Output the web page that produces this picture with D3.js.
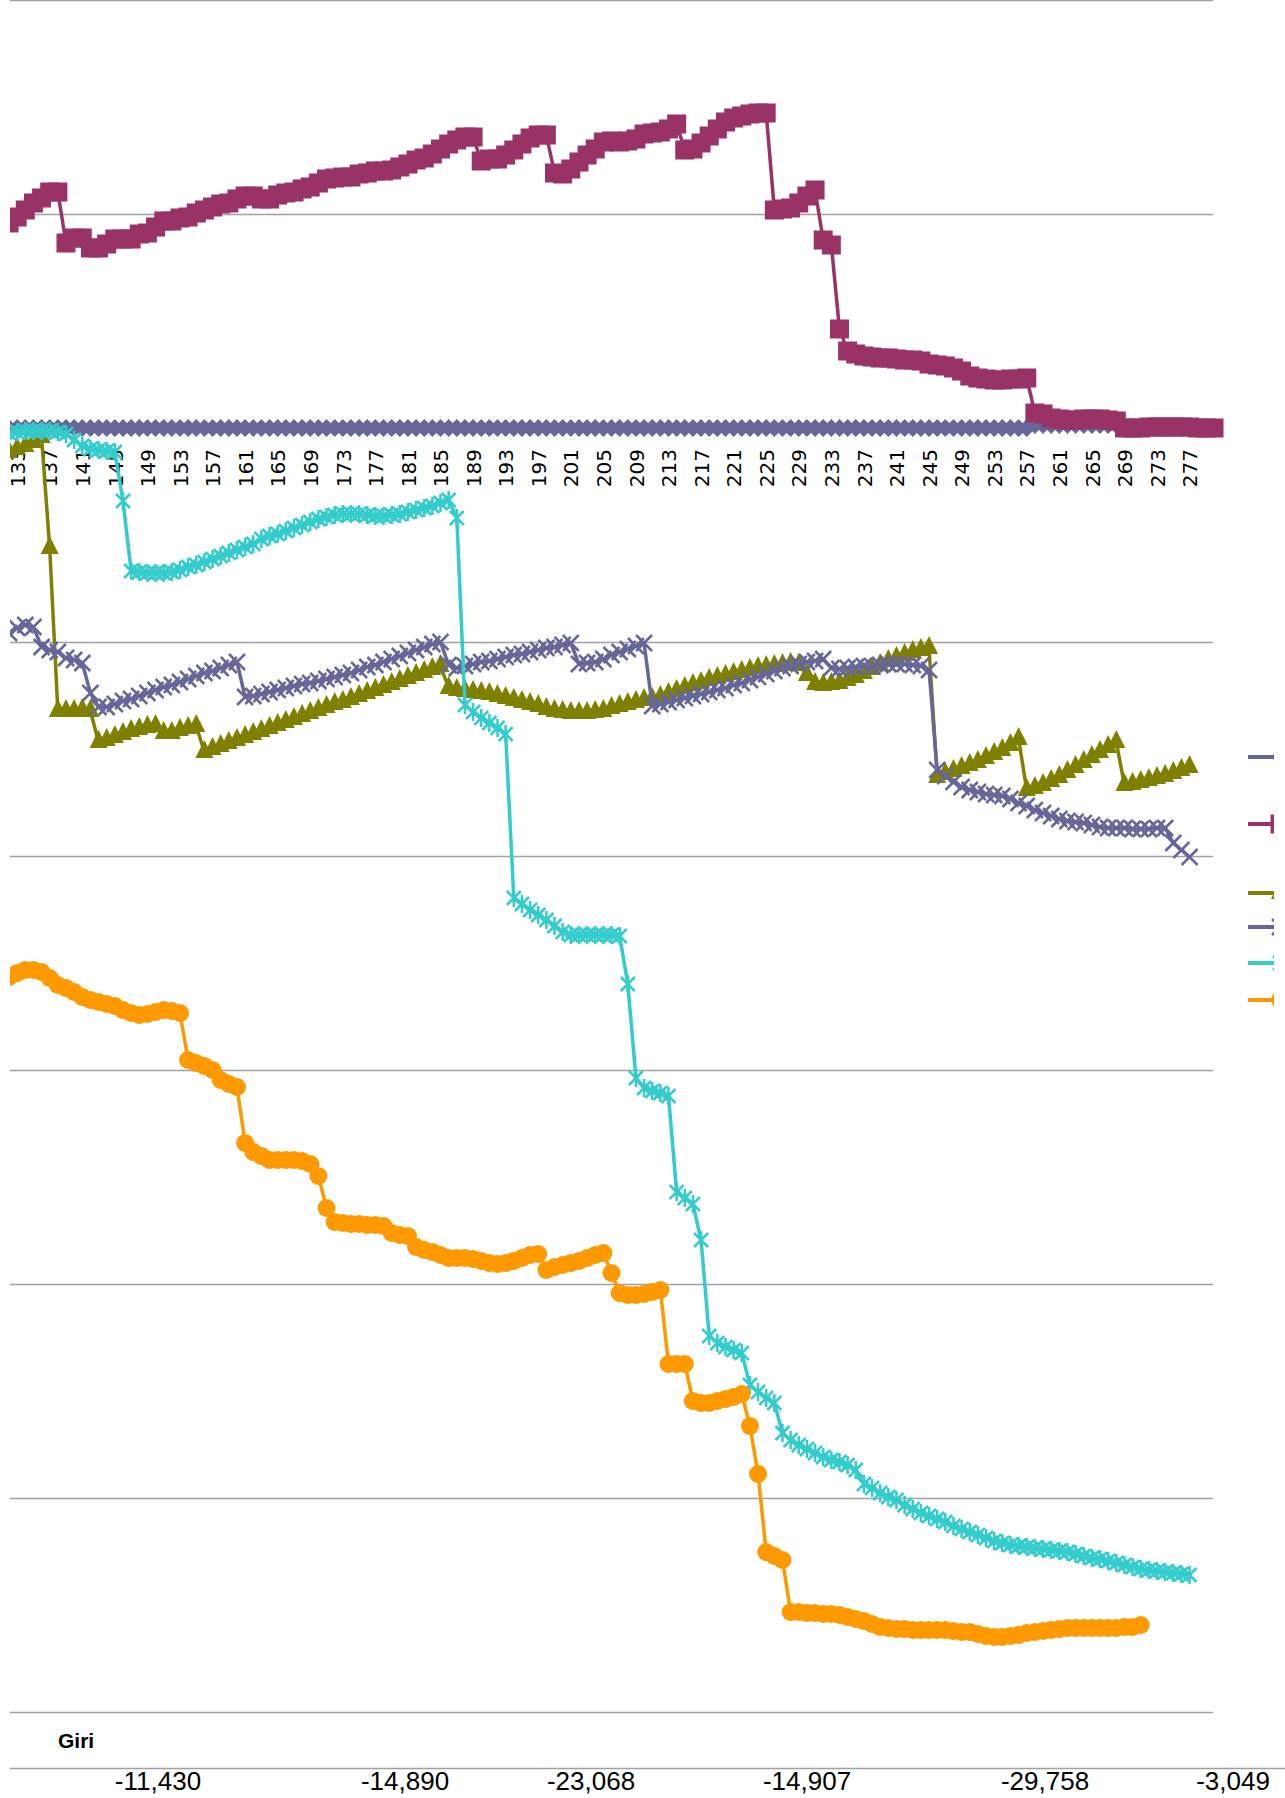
<!DOCTYPE html>
<html>
<head>
<meta charset="utf-8">
<script src="https://cdn.jsdelivr.net/npm/d3@7"></script>
<style>
  body { margin: 0; background: #fff; }
  svg { display: block; }
  .cat-axis text { font-family: "DejaVu Sans", sans-serif; font-size: 20px; fill: #000; }
</style>
</head>
<body>
<div id="chart"></div>
<script>
var svgWidth = 1285;
var svgHeight = 1798;

// categories on the x axis, labels every 4th one
var categories = d3.range(132, 281);
var tickLabels = [133, 137, 141, 145, 149, 153, 157, 161, 165, 169, 173, 177, 181, 185, 189, 193,
  197, 201, 205, 209, 213, 217, 221, 225, 229, 233, 237, 241, 245, 249, 253, 257, 261, 265, 269, 273, 277];

// horizontal grid values (y axis labels are cut off in the original)
var gridValues = [428, 214, 0, -214, -428, -642, -856, -1070, -1284];

// data table row under the plot
var tableLabel = "Giri";
var tableValues = ["-11,430", "-14,890", "-23,068", "-14,907", "-29,758", "-3,049"];
var tableX = [158, 405, 591, 807, 1045, 1233];

// series values, categories 132..280
var diamondSeries = [
  0, 0, 0, 0, 0, 0, 0, 0, 0, 0,
  0, 0, 0, 0, 0, 0, 0, 0, 0, 0,
  0, 0, 0, 0, 0, 0, 0, 0, 0, 0,
  0, 0, 0, 0, 0, 0, 0, 0, 0, 0,
  0, 0, 0, 0, 0, 0, 0, 0, 0, 0,
  0, 0, 0, 0, 0, 0, 0, 0, 0, 0,
  0, 0, 0, 0, 0, 0, 0, 0, 0, 0,
  0, 0, 0, 0, 0, 0, 0, 0, 0, 0,
  0, 0, 0, 0, 0, 0, 0, 0, 0, 0,
  0, 0, 0, 0, 0, 0, 0, 0, 0, 0,
  0, 0, 0, 0, 0, 0, 0, 0, 0, 0,
  0, 0, 0, 0, 0, 0, 0, 0, 0, 0,
  0, 0, 0, 0, 0, 0, 3, 3, 3, 3,
  3, 3, 3, 3, 3, 3, 3, 0, 0, 0,
  0, 0, 0, 0, 0, 0, 0, 0, 0
];

var squareSeries = [
  205, 211, 218, 225, 230, 236, 236, 185, 190, 190,
  180, 180, 184, 189, 189, 189, 194, 195, 201, 207,
  207, 210, 211, 215, 218, 221, 224, 225, 229, 232,
  232, 229, 229, 233, 235, 236, 239, 241, 245, 249,
  250, 251, 251, 254, 255, 257, 257, 258, 261, 264,
  268, 270, 274, 279, 284, 288, 291, 291, 267, 269,
  269, 273, 278, 284, 290, 293, 293, 255, 254, 259,
  266, 273, 279, 286, 287, 286, 287, 289, 294, 295,
  296, 299, 304, 278, 279, 285, 292, 299, 306, 310,
  312, 314, 315, 315, 218, 219, 220, 225, 232, 238,
  188, 183, 99, 77, 74, 72, 71, 70, 70, 69,
  68, 68, 67, 64, 63, 62, 60, 57, 52, 50,
  49, 48, 48, 49, 49, 50, 15, 14, 10, 9,
  8, 8, 9, 9, 9, 8, 7, 0, 0, 0,
  1, 1, 1, 1, 1, 1, 0, 0, 0
];

var triangleSeries = [
  -24, -21, -18, -14, -9, -120, -283, -283, -283, -282,
  -283, -314, -312, -309, -306, -303, -301, -299, -298, -305,
  -305, -302, -300, -298, -324, -321, -318, -315, -312, -309,
  -306, -303, -300, -297, -294, -291, -288, -285, -282, -279,
  -276, -274, -271, -268, -265, -262, -259, -256, -253, -250,
  -247, -244, -241, -238, -260, -262, -263, -264, -265, -266,
  -268, -270, -272, -274, -276, -278, -281, -283, -284, -285,
  -285, -285, -284, -283, -280, -278, -276, -274, -272, -271,
  -269, -266, -263, -260, -257, -255, -252, -250, -248, -246,
  -244, -242, -240, -239, -238, -237, -236, -237, -247, -256,
  -257, -256, -255, -252, -249, -245, -241, -237, -233, -230,
  -227, -224, -222, -220, -349, -346, -343, -340, -337, -334,
  -330, -326, -322, -317, -311, -362, -360, -357, -353, -349,
  -344, -339, -334, -329, -324, -319, -314, -357, -356, -354,
  -352, -350, -348, -345, -342, -339, null, null, null
];

var crossSeries = [
  -205, -200, -197, -199, -219, -222, -224, -230, -232, -235,
  -265, -279, -279, -276, -273, -271, -268, -265, -262, -259,
  -257, -254, -251, -248, -245, -243, -240, -237, -234, -269,
  -268, -266, -264, -262, -260, -258, -256, -255, -253, -251,
  -249, -247, -245, -242, -239, -237, -234, -231, -228, -225,
  -222, -219, -216, -214, -237, -240, -238, -236, -234, -233,
  -231, -229, -227, -226, -224, -222, -220, -219, -217, -215,
  -236, -235, -234, -231, -227, -224, -221, -218, -215, -278,
  -276, -274, -272, -270, -268, -266, -264, -262, -260, -257,
  -255, -252, -249, -246, -243, -240, -238, -236, -234, -233,
  -231, -240, -241, -240, -239, -238, -238, -237, -236, -236,
  -236, -237, -238, -242, -342, -348, -354, -359, -362, -364,
  -366, -367, -368, -371, -375, -378, -382, -385, -388, -391,
  -393, -394, -395, -397, -399, -400, -400, -400, -401, -401,
  -401, -400, -400, -415, -422, -429, null, null, null
];

var starSeries = [
  -5, -4, -3, -3, -3, -3, -4, -6, -12, -18,
  -21, -22, -23, -24, -73, -143, -144, -145, -145, -145,
  -144, -142, -139, -137, -134, -131, -128, -125, -122, -119,
  -116, -111, -108, -106, -103, -100, -97, -94, -91, -89,
  -87, -86, -86, -86, -87, -88, -88, -87, -86, -84,
  -82, -80, -78, -75, -72, -90, -277, -284, -290, -295,
  -300, -306, -470, -476, -482, -487, -492, -498, -504, -507,
  -507, -507, -507, -507, -507, -508, -556, -650, -660, -663,
  -665, -668, -764, -770, -776, -812, -908, -915, -919, -922,
  -925, -957, -964, -970, -975, -1005, -1012, -1017, -1021, -1025,
  -1029, -1032, -1034, -1037, -1042, -1056, -1060, -1065, -1069, -1072,
  -1077, -1081, -1085, -1088, -1091, -1094, -1098, -1101, -1104, -1107,
  -1110, -1113, -1115, -1117, -1118, -1119, -1120, -1121, -1122, -1123,
  -1124, -1126, -1128, -1130, -1131, -1133, -1135, -1137, -1139, -1141,
  -1142, -1143, -1144, -1145, -1146, -1147, null, null, null
];

var circleSeries = [
  -549, -545, -542, -542, -544, -550, -557, -560, -564, -569,
  -572, -574, -576, -578, -582, -585, -587, -586, -584, -582,
  -583, -585, -632, -635, -638, -642, -652, -656, -659, -715,
  -724, -728, -732, -732, -732, -732, -733, -736, -748, -780,
  -794, -795, -796, -796, -797, -797, -798, -805, -807, -808,
  -819, -822, -824, -827, -830, -830, -830, -831, -833, -835,
  -836, -835, -833, -830, -827, -826, -842, -839, -837, -835,
  -833, -830, -827, -825, -845, -865, -867, -867, -866, -864,
  -862, -936, -936, -936, -973, -975, -975, -973, -971, -969,
  -966, -998, -1046, -1124, -1128, -1132, -1184, -1184, -1185, -1185,
  -1186, -1186, -1187, -1189, -1191, -1193, -1196, -1199, -1200, -1201,
  -1201, -1202, -1202, -1202, -1202, -1202, -1203, -1204, -1204, -1206,
  -1208, -1209, -1209, -1208, -1207, -1205, -1204, -1203, -1202, -1201,
  -1200, -1200, -1200, -1200, -1200, -1200, -1200, -1199, -1199, -1197,
  null, null, null, null, null, null, null, null, null
];

// draw order follows the legend order
var series = [
  {values: diamondSeries, color: "#666699", marker: "diamond", legendY: 757},
  {values: squareSeries, color: "#993366", marker: "square", legendY: 824},
  {values: triangleSeries, color: "#808000", marker: "triangle", legendY: 893},
  {values: crossSeries, color: "#666699", marker: "cross", legendY: 927},
  {values: starSeries, color: "#33cccc", marker: "star", legendY: 963},
  {values: circleSeries, color: "#ff9900", marker: "circle", legendY: 1000}
];

var svg = d3.select("#chart")
  .append("svg")
  .attr("width", svgWidth)
  .attr("height", svgHeight);

svg.append("rect").attr("width", svgWidth).attr("height", svgHeight).attr("fill", "#fff");

var defs = svg.append("defs");
defs.append("clipPath").attr("id", "plotClip")
  .append("rect").attr("x", 10).attr("y", 0).attr("width", 1275).attr("height", 1712);
defs.append("clipPath").attr("id", "legendClip")
  .append("rect").attr("x", 1200).attr("y", 700).attr("width", 74).attr("height", 340);

// scales
var xScale = d3.scalePoint()
  .domain(categories)
  .range([9, 1214]);

var yScale = d3.scaleLinear()
  .domain([428, -1285])
  .range([0, 1713]);

// gridlines
svg.append("g")
  .selectAll("line")
  .data(gridValues)
  .enter()
  .append("line")
  .attr("x1", 10)
  .attr("x2", 1213)
  .attr("y1", d => Math.round(yScale(d)) + 0.5)
  .attr("y2", d => Math.round(yScale(d)) + 0.5)
  .attr("stroke", "#a0a0a0")
  .attr("stroke-width", 1.3);

// category labels, rotated
var xAxis = d3.axisBottom(xScale)
  .tickValues(tickLabels)
  .tickSize(0)
  .tickPadding(0);

var axisG = svg.append("g")
  .attr("class", "cat-axis")
  .attr("transform", `translate(0, ${yScale(0)})`)
  .call(xAxis);
axisG.select(".domain").remove();
axisG.attr("font-size", null).attr("font-family", null);
axisG.selectAll("text")
  .attr("transform", "rotate(-90)")
  .attr("x", -21)
  .attr("y", 0)
  .attr("dy", "0.36em")
  .attr("text-anchor", "end")
  .attr("fill", null);

// marker paths
function markerPath(type) {
  if (type === "diamond") return "M0,-9L9,0L0,9L-9,0Z";
  if (type === "square") return "M-9.5,-9.5H9.5V9.5H-9.5Z";
  if (type === "triangle") return "M0,-12L9,6L-9,6Z";
  if (type === "cross") return "M-8,-8L8,8M-8,8L8,-8";
  if (type === "star") return "M-7,-7L7,7M-7,7L7,-7M0,-9V9";
  return "M9,0A9,9 0 1,1 -9,0A9,9 0 1,1 9,0Z";
}
function isStroked(type) {
  return type === "cross" || type === "star";
}

var plot = svg.append("g").attr("clip-path", "url(#plotClip)");

var line = d3.line()
  .defined(d => d.v !== null)
  .x(d => xScale(d.c))
  .y(d => yScale(d.v));

series.forEach(function(s) {
  var pts = categories.map((c, i) => ({c: c, v: s.values[i]}));
  var g = plot.append("g");
  g.append("path")
    .datum(pts)
    .attr("d", line)
    .attr("fill", "none")
    .attr("stroke", s.color)
    .attr("stroke-width", 3.5)
    .attr("stroke-linejoin", "round");

  g.selectAll(".mk")
    .data(pts.filter(d => d.v !== null))
    .enter()
    .append("path")
    .attr("class", "mk")
    .attr("transform", d => `translate(${xScale(d.c)}, ${yScale(d.v)})`)
    .attr("d", markerPath(s.marker))
    .attr("fill", isStroked(s.marker) ? "none" : s.color)
    .attr("stroke", isStroked(s.marker) ? s.color : "none")
    .attr("stroke-width", 2.5);
});

// legend (cut at the right edge like the original)
var legend = svg.append("g").attr("clip-path", "url(#legendClip)");
series.forEach(function(s) {
  legend.append("line")
    .attr("x1", 1248)
    .attr("x2", 1312)
    .attr("y1", s.legendY)
    .attr("y2", s.legendY)
    .attr("stroke", s.color)
    .attr("stroke-width", 4);
  legend.append("path")
    .attr("transform", `translate(1280, ${s.legendY})`)
    .attr("d", markerPath(s.marker))
    .attr("fill", isStroked(s.marker) ? "none" : s.color)
    .attr("stroke", isStroked(s.marker) ? s.color : "none")
    .attr("stroke-width", 2.5);
});

// data table row
svg.append("line")
  .attr("x1", 10)
  .attr("x2", 1285)
  .attr("y1", 1768.5)
  .attr("y2", 1768.5)
  .attr("stroke", "#a0a0a0")
  .attr("stroke-width", 1.3);

svg.append("text")
  .attr("x", 58)
  .attr("y", 1748)
  .style("font-family", "'Liberation Sans', Arial, sans-serif")
  .style("font-weight", "bold")
  .style("font-size", "21px")
  .attr("fill", "#000")
  .text(tableLabel);

svg.append("g")
  .selectAll("text")
  .data(tableValues)
  .enter()
  .append("text")
  .attr("x", (d, i) => tableX[i])
  .attr("y", 1790)
  .attr("text-anchor", "middle")
  .style("font-family", "'Liberation Sans', Arial, sans-serif")
  .style("font-size", "26px")
  .attr("fill", "#000")
  .text(d => d);
</script>
</body>
</html>
